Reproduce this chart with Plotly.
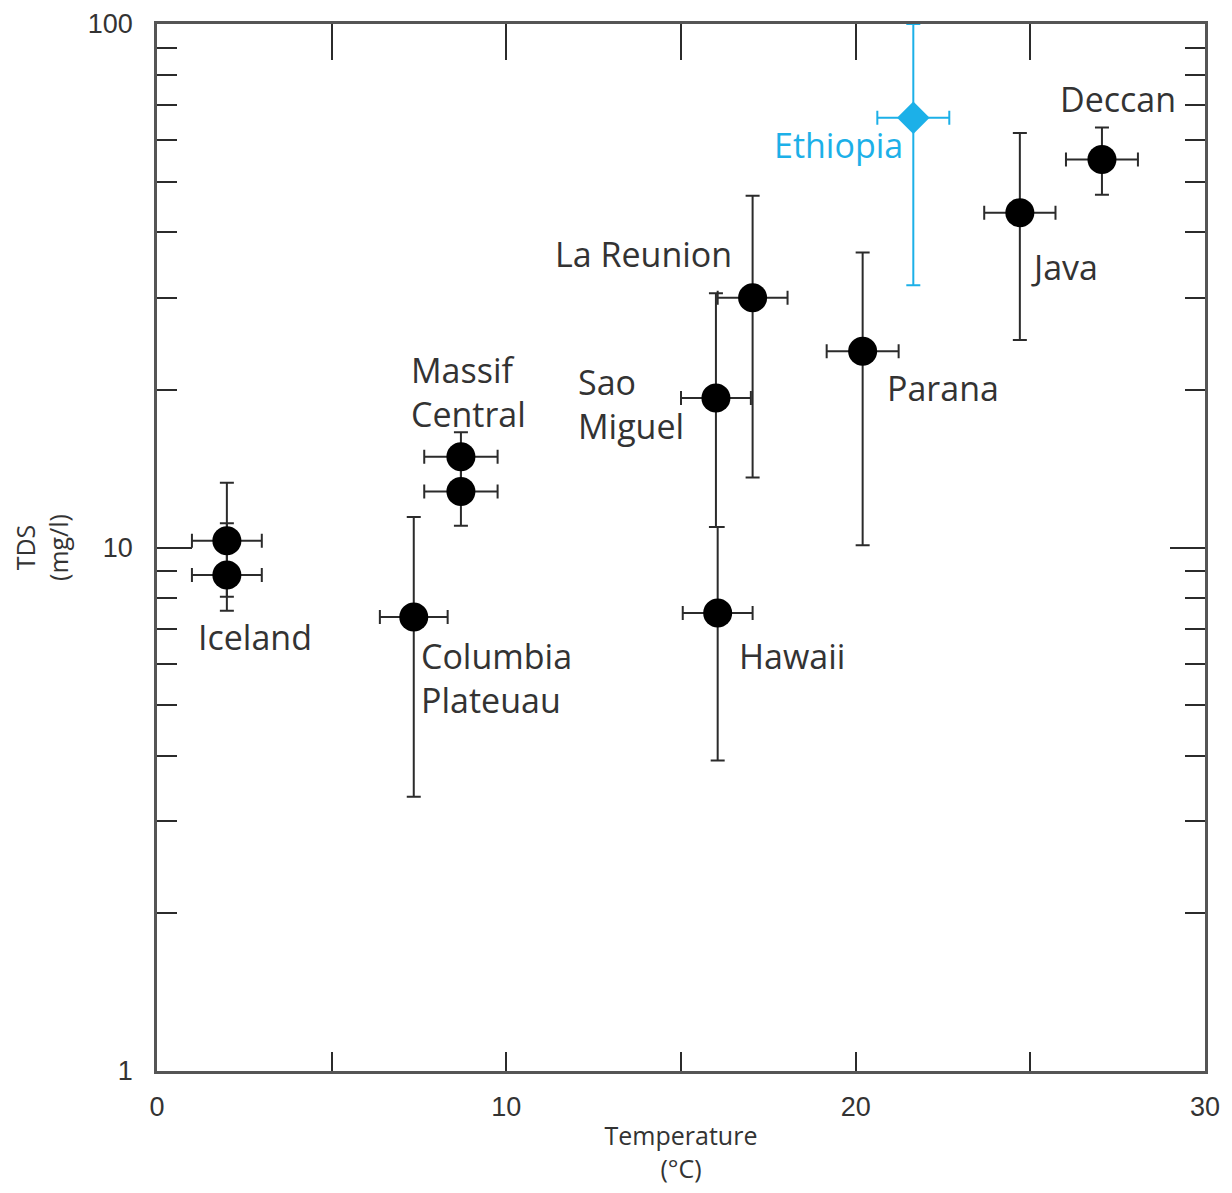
import plotly.graph_objects as go

# ---- data ----
sites = ["Iceland", "Iceland", "Massif Central", "Massif Central", "Columbia Plateau",
         "Sao Miguel", "Hawaii", "La Reunion", "Parana", "Java", "Deccan"]
temp = [2.0, 2.0, 8.7, 8.7, 7.35, 16.0, 16.05, 17.05, 20.2, 24.7, 27.05]
temp_err = [1.0, 1.0, 1.05, 1.05, 0.97, 1.0, 1.0, 1.0, 1.03, 1.02, 1.03]
tds = [10.3, 8.86, 14.9, 12.8, 7.37, 19.3, 7.5, 30.0, 23.7, 43.6, 55.1]
tds_err_plus = [3.0, 2.27, 1.7, 1.6, 4.06, 11.3, 3.44, 17.0, 12.9, 18.3, 8.3]
tds_err_minus = [2.25, 1.29, 1.6, 1.8, 4.03, 8.36, 3.58, 16.4, 13.6, 18.7, 7.9]

eth_temp = [21.65]
eth_temp_err = [1.03]
eth_tds = [66.2]
eth_tds_err_plus = [33.8]
eth_tds_err_minus = [34.5]

x_ticks = [0, 5, 10, 15, 20, 25, 30]
x_ticktext = ["0", "", "10", "", "20", "", "30"]
y_major = [1, 10, 100]
y_major_text = ["1", "10", "100"]
y_minor = [2, 3, 4, 5, 6, 7, 8, 9, 20, 30, 40, 50, 60, 70, 80, 90]

# labels: text, x, log10(y) anchor (left/middle), colour
labels = [
    ("Iceland", 1.12, 0.829, "#333333"),
    ("Columbia<br>Plateuau", 7.5, 0.751, "#333333"),
    ("Massif<br>Central", 7.2, 1.298, "#333333"),
    ("Sao<br>Miguel", 12.0, 1.2736, "#333333"),
    ("La Reunion", 11.35, 1.5615, "#333333"),
    ("Hawaii", 16.6, 0.7932, "#333333"),
    ("Parana", 20.85, 1.304, "#333333"),
    ("Ethiopia", 17.6, 1.769, "#1CB0E8"),
    ("Java", 24.95, 1.5367, "#333333"),
    ("Deccan", 25.8, 1.857, "#333333"),
]

INK = "#2b2b2b"
BLUE = "#1CB0E8"
LABEL_FONT = "Open Sans"

fig = go.Figure()

fig.add_trace(go.Scatter(
    x=temp, y=tds, mode="markers", text=sites,
    marker=dict(symbol="circle", size=29, color="#000000"),
    error_x=dict(type="data", array=temp_err, color=INK, thickness=2, width=7),
    error_y=dict(type="data", array=tds_err_plus, arrayminus=tds_err_minus,
                 symmetric=False, color=INK, thickness=2, width=7),
    showlegend=False,
))

fig.add_trace(go.Scatter(
    x=eth_temp, y=eth_tds, mode="markers", text=["Ethiopia"],
    marker=dict(symbol="diamond", size=25, color=BLUE),
    error_x=dict(type="data", array=eth_temp_err, color=BLUE, thickness=2, width=7),
    error_y=dict(type="data", array=eth_tds_err_plus, arrayminus=eth_tds_err_minus,
                 symmetric=False, color=BLUE, thickness=2, width=7),
    showlegend=False,
))

# invisible helper traces so overlay axes are drawn
fig.add_trace(go.Scatter(x=[None], y=[None], xaxis="x2", yaxis="y", showlegend=False, hoverinfo="skip"))
fig.add_trace(go.Scatter(x=[None], y=[None], xaxis="x", yaxis="y2", showlegend=False, hoverinfo="skip"))

for text, lx, ly, col in labels:
    fig.add_annotation(x=lx, y=ly, xref="x", yref="y", text=text, showarrow=False,
                       xanchor="left", yanchor="middle", align="left",
                       font=dict(family=LABEL_FONT, size=34, color=col))

fig.update_layout(
    width=1216, height=1177,
    margin=dict(l=149, r=19, t=16, b=114),
    plot_bgcolor="white", paper_bgcolor="white",
    xaxis=dict(
        range=[0, 30], tickvals=x_ticks, ticktext=x_ticktext,
        ticks="inside", ticklen=19, tickwidth=2, tickcolor=INK,
        showline=True, linewidth=2.5, linecolor="#555555", mirror=True,
        showgrid=False, zeroline=False, automargin=False,
        tickfont=dict(family="Liberation Sans", size=27, color="#333333"),
        ticklabelstandoff=10, ticklabeloverflow="allow",
        title=dict(text="Temperature<br>(°C)", standoff=16,
                   font=dict(family=LABEL_FONT, size=25, color="#333333")),
    ),
    xaxis2=dict(
        overlaying="x", side="top", range=[0, 30], tickvals=[5, 10, 15, 20, 25],
        ticks="inside", ticklen=36, tickwidth=2, tickcolor=INK, automargin=False,
        showticklabels=False, showline=False, showgrid=False, zeroline=False,
    ),
    yaxis=dict(
        type="log", range=[0, 2], tickvals=y_major, ticktext=y_major_text,
        ticks="inside", ticklen=35, tickwidth=2, tickcolor=INK,
        showline=True, linewidth=2.5, linecolor="#555555", mirror="ticks",
        showgrid=False, zeroline=False, automargin=False,
        tickfont=dict(family="Liberation Sans", size=27, color="#333333"),
        ticklabelstandoff=16, ticklabeloverflow="allow",
        title=dict(text="TDS<br>(mg/l)", standoff=24,
                   font=dict(family=LABEL_FONT, size=25, color="#333333")),
    ),
    yaxis2=dict(
        overlaying="y", side="left", type="log", range=[0, 2], tickvals=y_minor,
        ticks="inside", ticklen=20, tickwidth=2, tickcolor=INK, mirror="ticks",
        automargin=False,
        showticklabels=False, showline=False, showgrid=False, zeroline=False,
    ),
)

fig.write_html("out.html")
